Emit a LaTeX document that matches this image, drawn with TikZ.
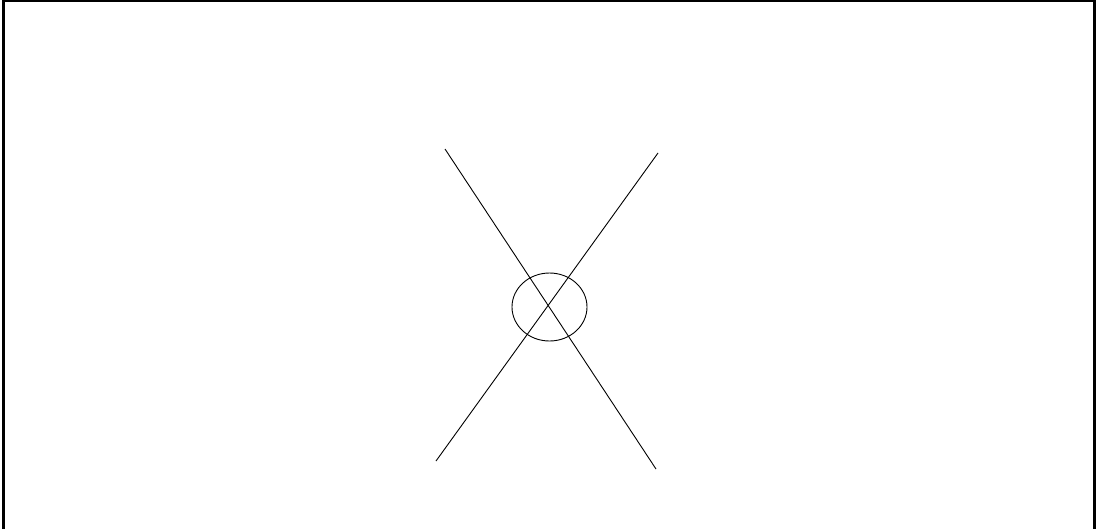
\documentclass[tikz,border=0pt]{standalone}
\usetikzlibrary{shapes.geometric}
\begin{document}
\begin{tikzpicture}[x=1pt,y=-1pt,
  thinline/.style={line width=0.9pt,black},
  frame/.style={line width=3pt,black}]
\useasboundingbox (0,0) rectangle (1106,528);
\begin{scope}
\clip (0,0) rectangle (1106,528);
\draw[frame] (3,0) rectangle (1094,540);
\end{scope}
\coordinate (a1) at (445,149);
\coordinate (a2) at (656,469);
\coordinate (b1) at (658,153);
\coordinate (b2) at (436,461);
\draw[thinline] (a1) -- (a2);
\draw[thinline] (b1) -- (b2);
\node[draw,thinline,ellipse,minimum width=75pt,minimum height=68pt,inner sep=0pt] (e) at (549.5,307) {};
\end{tikzpicture}
\end{document}
